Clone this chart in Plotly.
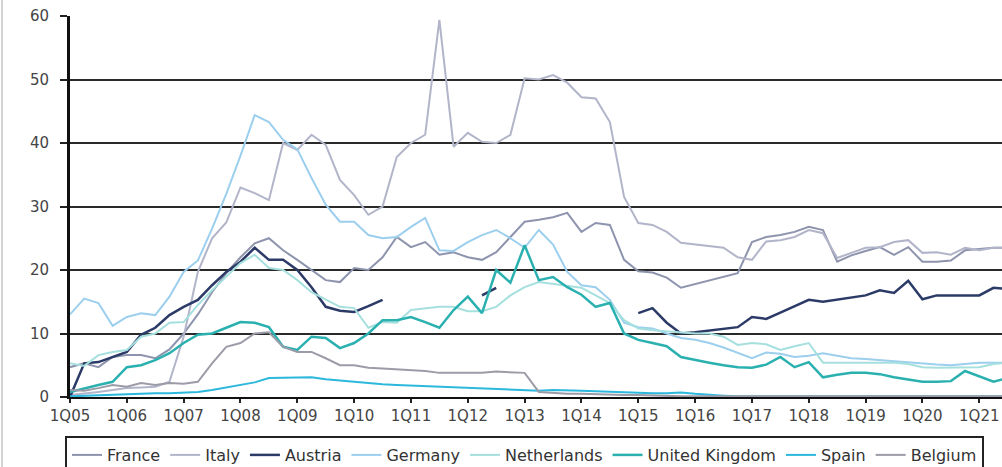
import plotly.graph_objects as go

# Quarter categories 1Q05 .. 3Q21
years = [f"{y:02d}" for y in range(5, 22)]
quarters = [f"{q}Q{y}" for y in years for q in range(1, 5)][:67]
tick_labels = [f"1Q{y}" for y in years]

france = [4.7, 5.3, 4.7, 6.3, 6.6, 6.6, 6.1, 7.5, 10, 13, 16.5, 19.5, 22, 24.2, 25, 23.1, 21.6, 20, 18.4, 18.1,
          20.3, 20, 22, 25.2, 23.6, 24.4, 22.4, 22.8, 22, 21.6, 22.8, 25.2, 27.6, 27.9, 28.3, 29, 26, 27.4, 27.1, 21.6,
          19.8, 19.6, 18.8, 17.2, 17.8, 18.3, 19, 19.5, 24.4, 25.2, 25.5, 26, 26.8, 26.3, 21.3, 22.3, 23, 23.6, 22.4, 23.6,
          21.3, 21.3, 21.5, 23.1, 23.3, 23.5, 23.5]
italy = [0.3, 0.5, 0.8, 1.1, 1.4, 1.5, 1.6, 2.4, 9.5, 19.7, 25, 27.5, 33, 32.1, 31, 40, 38.9, 41.3, 39.7, 34.2,
         31.8, 28.7, 30, 37.8, 40, 41.3, 59.4, 39.4, 41.6, 40.2, 40, 41.3, 50.2, 50, 50.7, 49.5, 47.2, 47, 43.3, 31.5,
         27.4, 27.1, 26, 24.3, 24, 23.7, 23.5, 22, 21.6, 24.5, 24.7, 25.2, 26.3, 25.8, 21.9, 22.7, 23.5, 23.6, 24.4, 24.7,
         22.7, 22.8, 22.4, 23.5, 23.1, 23.5, 23.5]
austria = [0, 5.3, 5.5, 6.3, 7.1, 9.8, 10.9, 12.9, 14.2, 15.3, 17.6, 19.7, 21.3, 23.5, 21.6, 21.6, 20, 17.3, 14.2, 13.6,
           13.4, 14.3, 15.3, None, None, None, None, None, None, 16, 17.2, None, None, None, None, None, None, None, None, None,
           13.2, 14, 11.7, 10, 10.2, 10.5, 10.8, 11, 12.6, 12.3, 13.3, 14.3, 15.3, 15, 15.3, 15.7, 16, 16.8, 16.4, 18.3,
           15.4, 16, 16, 16, 16, 17.2, 17]
germany = [13, 15.5, 14.8, 11.2, 12.6, 13.2, 12.9, 15.8, 19.7, 21.5, 26.5, 32, 38, 44.4, 43.3, 40.5, 39, 34.5, 30.3, 27.6,
           27.6, 25.5, 25, 25.2, 26.8, 28.2, 23.1, 23, 24.4, 25.5, 26.3, 25, 23.5, 26.3, 24, 19.7, 17.6, 17.3, 15.3, 11.7,
           11, 10.8, 10, 9.3, 9, 8.5, 7.8, 7, 6.1, 7, 6.8, 6.3, 6.5, 6.9, 6.5, 6.1, 6, 5.8, 5.7, 5.5,
           5.3, 5.1, 5, 5.2, 5.4, 5.4, 5.4]
netherlands = [5.3, 4.9, 6.6, 7.1, 7.4, 9.5, 10, 11.7, 11.8, 14.5, 16.8, 19, 21.1, 22.4, 20.3, 20, 18.4, 16.5, 15.3, 14.2,
               14, 10.9, 11.8, 11.7, 13.7, 14, 14.2, 14.2, 13.5, 13.5, 14.2, 16, 17.3, 18.1, 17.8, 17.4, 17.2, 16, 14.8, 12.1,
               10.8, 10.5, 10.3, 10.2, 10, 10, 9.5, 8.2, 8.5, 8.3, 7.4, 8, 8.5, 5.4, 5.4, 5.5, 5.5, 5.4, 5.4, 5.2,
               4.7, 4.6, 4.6, 4.7, 4.7, 5.2, 5.4]
uk = [0.8, 1.4, 1.9, 2.4, 4.7, 5, 5.8, 6.9, 8.5, 9.8, 10, 10.9, 11.8, 11.7, 11, 7.9, 7.4, 9.5, 9.3, 7.7,
      8.5, 10, 12.1, 12.1, 12.6, 11.8, 10.9, 13.7, 15.8, 13.2, 20, 18, 23.9, 18.4, 18.9, 17.3, 16.1, 14.2, 14.8, 10,
      9, 8.5, 8, 6.3, 5.8, 5.4, 5, 4.7, 4.6, 5.1, 6.3, 4.7, 5.5, 3.1, 3.5, 3.8, 3.8, 3.6, 3.1, 2.8,
      2.4, 2.4, 2.5, 4.1, 3.2, 2.4, 3]
spain = [0.1, 0.2, 0.3, 0.4, 0.5, 0.5, 0.6, 0.6, 0.7, 0.8, 1.1, 1.5, 1.9, 2.3, 3, 3, 3, 3.1, 2.8, 2.6,
         2.3, 2.1, 2, 1.9, 1.8, 1.7, 1.6, 1.5, 1.4, 1.3, 1.2, 1.1, 1, 1, 1.1, 1.1, 1, 0.9, 0.8, 0.7,
         0.6, 0.6, 0.6, 0.7, 0.5, 0.3, 0.2, 0.1, 0.1, 0.1, 0.1, 0.1, 0.1, 0.1, 0.1, 0.1, 0.1, 0.1, 0.1, 0.1,
         0.1, 0.1, 0.1, 0.1, 0.1, 0.1, 0.1]
belgium = [1.1, 1, 1.4, 1.9, 1.6, 2.2, 1.9, 2.2, 2.1, 2.4, 5.3, 7.9, 8.5, 10, 10.2, 7.9, 7.1, 7.1, 6.1, 5,
           5, 4.6, 4.5, 4.4, 4.3, 4.1, 3.8, 3.8, 3.8, 3.8, 4, 3.9, 3.8, 0.8, 0.6, 0.5, 0.5, 0.4, 0.3, 0.3,
           0.3, 0.2, 0.2, 0.1, 0.1, 0.1, 0.1, 0.1, 0.1, 0.1, 0.1, 0.1, 0.1, 0.1, 0.1, 0.1, 0.1, 0.1, 0.1, 0.1,
           0.1, 0.1, 0.1, 0.1, 0.1, 0.1, 0.1]

series = [
    ("France", france, "#8e94ad", 2),
    ("Italy", italy, "#b2b5c9", 2),
    ("Austria", austria, "#2b3a66", 2.5),
    ("Germany", germany, "#9ccfee", 2),
    ("Netherlands", netherlands, "#a6e0de", 2),
    ("United Kingdom", uk, "#2bb0b0", 2.5),
    ("Spain", spain, "#2cb8dc", 2),
    ("Belgium", belgium, "#9c9ca8", 2),
]

fig = go.Figure()
for name, vals, color, w in series:
    fig.add_trace(go.Scatter(x=quarters, y=vals, name=name, mode="lines",
                             line=dict(color=color, width=w), connectgaps=False))

font_fam = "DejaVu Sans"
fig.update_layout(
    width=1002, height=467,
    margin=dict(l=70, r=0, t=16, b=70),
    paper_bgcolor="white", plot_bgcolor="white",
    showlegend=True,
    legend=dict(orientation="h", xref="container", yref="container",
                x=65 / 1002, y=(467 - 436) / 467, xanchor="left", yanchor="top",
                bordercolor="#222", borderwidth=2, bgcolor="white",
                font=dict(family=font_fam, size=16, color="#333"),
                traceorder="normal"),
    xaxis=dict(type="category", categoryorder="array", categoryarray=quarters,
               range=[0, 65.6], tickmode="array", tickvals=tick_labels, ticktext=tick_labels,
               ticks="outside", ticklen=4, tickwidth=2, tickcolor="#222",
               showline=True, linecolor="#111", linewidth=2, showgrid=False, zeroline=False,
               automargin=False,
               tickfont=dict(family=font_fam, size=15, color="#444")),
    yaxis=dict(range=[0, 60], dtick=10, tick0=0, showgrid=True, gridcolor="#2a2a2a", gridwidth=2,
               showline=True, linecolor="#111", linewidth=3, zeroline=False,
               ticks="outside", ticklen=7, tickwidth=2, tickcolor="#222",
               ticklabelstandoff=8, automargin=False,
               tickfont=dict(family=font_fam, size=15, color="#444")),
    shapes=[dict(type="line", xref="paper", yref="paper",
                 x0=(2 - 70) / 932, x1=(2 - 70) / 932, y0=(397 - 467) / 381, y1=(397 - 0) / 381,
                 line=dict(color="#d4d4d4", width=2))],
)

fig.write_html("out.html", config={"displayModeBar": False},
               post_script="document.body.style.margin='0';document.body.style.overflow='hidden';")
